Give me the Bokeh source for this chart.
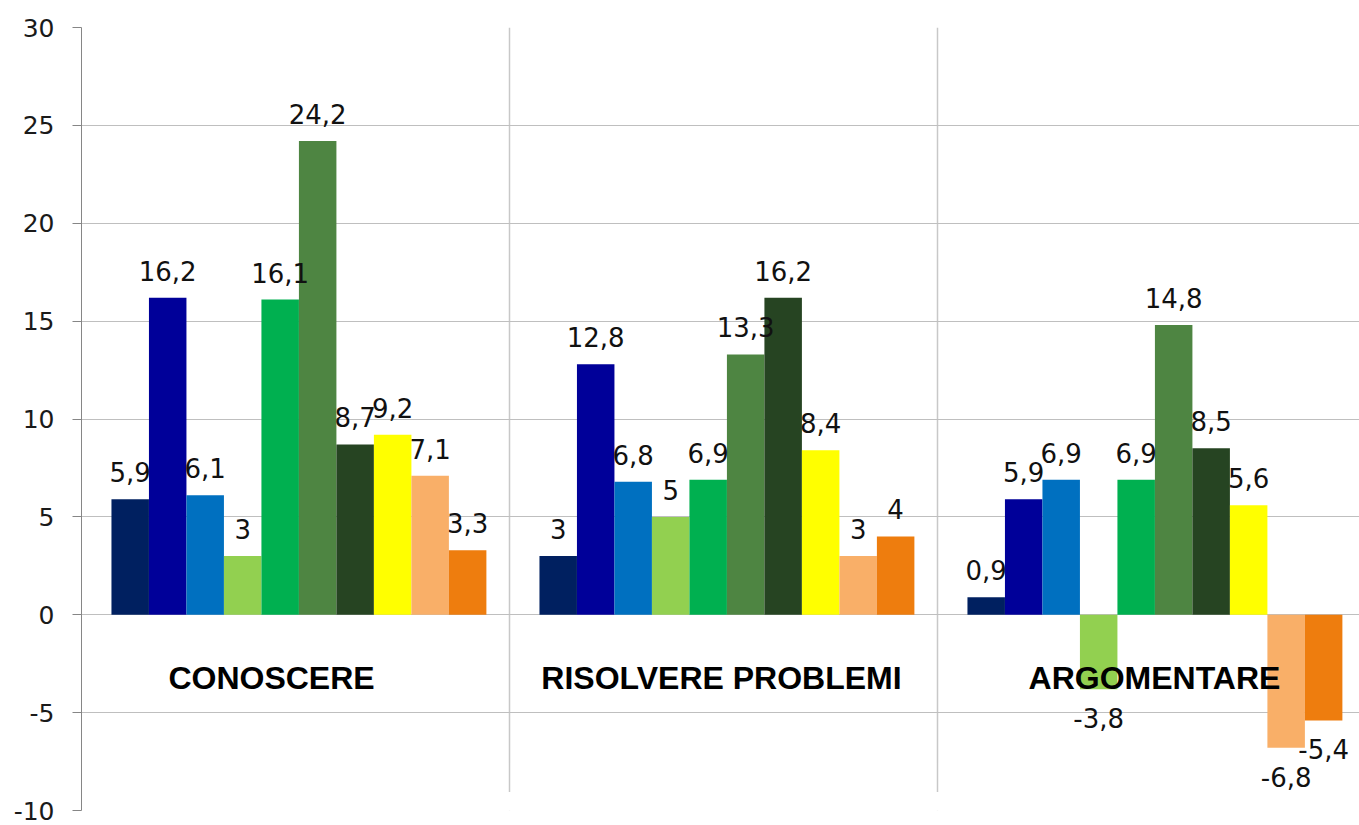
from bokeh.plotting import figure
from bokeh.models import ColumnDataSource, Range1d, FixedTicker, BoxAnnotation
from bokeh.core.properties import value
from bokeh.embed import file_html
from bokeh.resources import INLINE

# ---- data ----
groups = ["CONOSCERE", "RISOLVERE PROBLEMI", "ARGOMENTARE"]
conoscere = [5.9, 16.2, 6.1, 3, 16.1, 24.2, 8.7, 9.2, 7.1, 3.3]
risolvere = [3, 12.8, 6.8, 5, 6.9, 13.3, 16.2, 8.4, 3, 4]
argomentare = [0.9, 5.9, 6.9, -3.8, 6.9, 14.8, 8.5, 5.6, -6.8, -5.4]
series_colors = ["#002060", "#000099", "#0070C0", "#92D050", "#00B050",
                 "#4E8542", "#264422", "#FFFF00", "#F9AF68", "#EE7D0E"]
y_ticks = [-10, -5, 0, 5, 10, 15, 20, 25, 30]

all_values = [conoscere, risolvere, argomentare]
n_series = len(series_colors)
bar_w = 0.0876


def fmt(v):
    return ("%g" % v).replace(".", ",")


xs, tops, cols, labels = [], [], [], []
for g, vals in enumerate(all_values):
    for i, v in enumerate(vals):
        xs.append(g + 0.508 + (i - (n_series - 1) / 2) * bar_w)
        tops.append(v)
        cols.append(series_colors[i])
        labels.append(fmt(v))

src = ColumnDataSource(dict(x=xs, top=tops, color=cols, label=labels))
pos = ColumnDataSource(dict(
    x=[x for x, t in zip(xs, tops) if t >= 0],
    y=[t for t in tops if t >= 0],
    label=[l for l, t in zip(labels, tops) if t >= 0]))
neg = ColumnDataSource(dict(
    x=[x for x, t in zip(xs, tops) if t < 0],
    y=[t for t in tops if t < 0],
    label=[l for l, t in zip(labels, tops) if t < 0]))

W, H = 1359, 825
left_b = 81
x_end = (W - left_b) / 428.0

p = figure(width=W, height=H, output_backend="svg", toolbar_location=None,
           x_range=Range1d(0, x_end), y_range=Range1d(-10, 30),
           min_border_left=left_b, min_border_right=0,
           min_border_top=27, min_border_bottom=15)
p.outline_line_color = None
p.background_fill_color = "white"
p.border_fill_color = "white"

p.xaxis.visible = False
p.xgrid.ticker = FixedTicker(ticks=[1, 2])
p.xgrid.grid_line_color = "#C8C8C8"
p.xgrid.grid_line_width = 1.5

p.yaxis.ticker = FixedTicker(ticks=y_ticks)
p.yaxis.major_label_overrides = {t: str(t) for t in y_ticks}
p.ygrid.ticker = FixedTicker(ticks=y_ticks)
p.ygrid.grid_line_color = "#BFBFBF"
p.ygrid.grid_line_width = 1
p.yaxis.axis_line_color = "#868686"
p.yaxis.major_tick_line_color = "#868686"
p.yaxis.major_tick_out = 9
p.yaxis.major_tick_in = 0
p.yaxis.minor_tick_line_color = None
p.yaxis.major_label_standoff = 18
p.yaxis.major_label_text_font = "DejaVu Sans"
p.yaxis.major_label_text_font_size = "25px"
p.yaxis.major_label_text_color = "#1a1a1a"

p.vbar(x="x", top="top", bottom=0, width=bar_w, fill_color="color",
       line_color=None, source=src)

p.text(x="x", y="y", text="label", source=pos, text_font=value("DejaVu Sans"),
       text_font_size="26px", text_align="center", text_baseline="bottom",
       y_offset=-17, text_color="#111111")
p.text(x="x", y="y", text="label", source=neg, text_font=value("DejaVu Sans"),
       text_font_size="26px", text_align="center", text_baseline="top",
       y_offset=19, text_color="#111111")

cat_src = ColumnDataSource(dict(x=[g + 0.5 for g in range(len(groups))],
                                y=[-3.25] * len(groups),
                                name=groups,
                                xo=[-24, -2, 3]))
p.text(x="x", y="y", text="name", source=cat_src, x_offset="xo",
       text_font=value("Liberation Sans"), text_font_style="bold",
       text_font_size="32px", text_align="center", text_baseline="middle",
       text_color="black")

p.add_layout(BoxAnnotation(left=0.05, right=x_end + 1, bottom=-11, top=-9.05,
                           fill_color="white", fill_alpha=1.0,
                           line_color=None, level="overlay"))

open("out.html", "w").write(file_html(p, INLINE))
